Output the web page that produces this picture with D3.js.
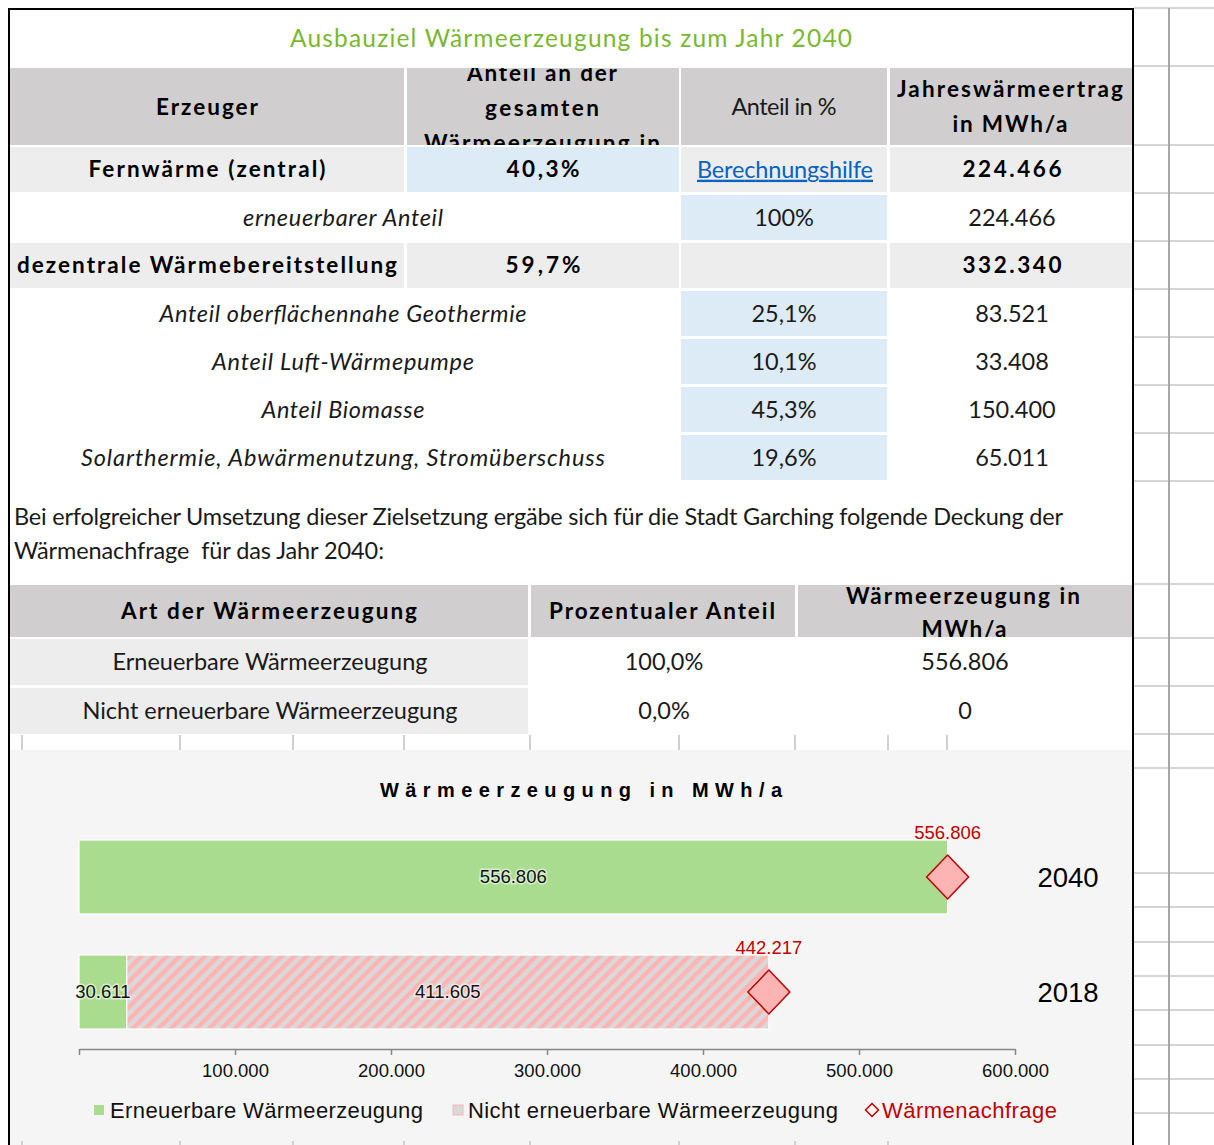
<!DOCTYPE html>
<html>
<head>
<meta charset="utf-8">
<script src="https://cdn.jsdelivr.net/npm/d3@7"></script>
<style>
body { margin: 0; background: #fff; }
svg { display: block; }
.t { font-family: Lato, "Open Sans", sans-serif; font-size: 23.5px; fill: #1a1a1a; white-space: pre; }
.b { font-weight: 700; fill: #000; font-size: 22.5px; }
.i { font-style: italic; }
.c { font-family: "Liberation Sans", Arial, sans-serif; fill: #111; }
</style>
</head>
<body>
<div id="sheet"></div>
<script>
// table 1 values
const erzeuger = ["Fernwärme (zentral)", "erneuerbarer Anteil", "dezentrale Wärmebereitstellung",
  "Anteil oberflächennahe Geothermie", "Anteil Luft-Wärmepumpe", "Anteil Biomasse",
  "Solarthermie, Abwärmenutzung, Stromüberschuss"];
const anteilGesamt = ["40,3%", null, "59,7%", null, null, null, null];
const anteilProzent = ["Berechnungshilfe", "100%", "", "25,1%", "10,1%", "45,3%", "19,6%"];
const jahresertrag = [224466, 224466, 332340, 83521, 33408, 150400, 65011];

// table 2 values
const artLabels = ["Erneuerbare Wärmeerzeugung", "Nicht erneuerbare Wärmeerzeugung"];
const artProzent = ["100,0%", "0,0%"];
const artErzeugung = [556806, 0];

// chart values
const years = ["2040", "2018"];
const renewable = [556806, 30611];
const nonRenewable = [0, 411605];
const demand = [556806, 442217];
const xTicks = [0, 100000, 200000, 300000, 400000, 500000, 600000];

const de = d3.formatLocale({decimal: ",", thousands: ".", grouping: [3], currency: ["", "€"]});
const fmt = de.format(",");

const W = 1214, H = 1145;
const svg = d3.select("#sheet").append("svg").attr("width", W).attr("height", H);
const defs = svg.append("defs");

function put(g, s, x, y, cls, w, anchor) {
  const t = g.append("text").attr("class", "t " + (cls || ""))
    .attr("x", x).attr("y", y).attr("dy", "0.35em")
    .attr("text-anchor", anchor || "middle").text(s);
  if (w) t.attr("textLength", w).attr("lengthAdjust", "spacing");
  return t;
}

// excel grid on the right side
const grid = svg.append("g");
[8, 66, 145, 193, 241, 289, 337, 385, 433, 481, 584, 638, 686, 734, 768, 873, 907, 942, 976, 1010, 1045, 1079, 1113]
  .forEach(yy => grid.append("line").attr("x1", 1134).attr("x2", W).attr("y1", yy).attr("y2", yy)
    .attr("stroke", "#d4d4d4").attr("stroke-width", 2));
grid.append("line").attr("x1", 1169).attr("x2", 1169).attr("y1", 8).attr("y2", H)
  .attr("stroke", "#a6a6a6").attr("stroke-width", 2);

// title
put(svg, "Ausbauziel Wärmeerzeugung bis zum Jahr 2040", 571, 38, "", 562).style("font-size", "24.5px").style("fill", "#7ab831");

// ---- table 1
const t1 = svg.append("g");
const colX = [10, 407, 681, 890], colR = [404, 679, 887, 1132];
const colMid = colX.map((c, i) => (c + colR[i]) / 2);
const GRAY = "#d0cece", LIGHT = "#ededed", BLUE = "#ddebf7";

colX.forEach((c, i) => t1.append("rect").attr("x", c).attr("y", 68).attr("width", colR[i] - c).attr("height", 77).attr("fill", GRAY));
put(t1, "Erzeuger", 207, 107, "b", 102);
defs.append("clipPath").attr("id", "h2").append("rect").attr("x", 407).attr("y", 68).attr("width", 272).attr("height", 77);
const h2 = t1.append("g").attr("clip-path", "url(#h2)");
put(h2, "Anteil an der", 542, 73, "b", 150);
put(h2, "gesamten", 542, 108, "b", 114);
put(h2, "Wärmeerzeugung in", 542, 143, "b", 236);
put(t1, "Anteil in %", 784, 107, "", 105);
put(t1, "Jahreswärmeertrag", 1010, 89, "b", 226);
put(t1, "in MWh/a", 1010, 124, "b", 115);

const labelW = [237, 200, 380, 367, 262, 163, 524];
const valW = [73, null, 75];
erzeuger.forEach((lab, i) => {
  const top = 147 + i * 48, h = 45, cy = top + 22.5;
  const main = anteilGesamt[i] !== null;
  if (main) {
    t1.append("rect").attr("x", colX[0]).attr("y", top).attr("width", colR[0] - colX[0]).attr("height", h).attr("fill", LIGHT);
    t1.append("rect").attr("x", colX[1]).attr("y", top).attr("width", colR[1] - colX[1]).attr("height", h).attr("fill", i === 0 ? BLUE : LIGHT);
  }
  t1.append("rect").attr("x", colX[2]).attr("y", top).attr("width", colR[2] - colX[2]).attr("height", h).attr("fill", main ? LIGHT : BLUE);
  if (main) t1.append("rect").attr("x", colX[3]).attr("y", top).attr("width", colR[3] - colX[3]).attr("height", h).attr("fill", LIGHT);

  if (main && i === 2) put(t1, lab, 17, cy, "b", labelW[i], "start");
  else if (main) put(t1, lab, colMid[0], cy, "b", labelW[i]);
  else put(t1, lab, 343, cy, "i", labelW[i]);
  if (main) put(t1, anteilGesamt[i], colMid[1], cy, "b", valW[i]);
  if (anteilProzent[i] === "Berechnungshilfe")
    put(t1, anteilProzent[i], colMid[2] + 1, cy, "", 176).style("fill", "#0563c1").style("text-decoration", "underline");
  else put(t1, anteilProzent[i], colMid[2], cy, "");
  put(t1, fmt(jahresertrag[i]), colMid[3] + 1, cy, main ? "b" : "", main ? 99 : null);
});

// paragraph
put(svg, "Bei erfolgreicher Umsetzung dieser Zielsetzung ergäbe sich für die Stadt Garching folgende Deckung der", 14, 517, "", 1049, "start");
put(svg, "Wärmenachfrage  für das Jahr 2040:", 14, 551, "", 370, "start");

// ---- table 2
const t2 = svg.append("g");
const c2X = [10, 531, 798], c2R = [528, 795, 1132];
c2X.forEach((c, i) => t2.append("rect").attr("x", c).attr("y", 585).attr("width", c2R[i] - c).attr("height", 52).attr("fill", GRAY));
put(t2, "Art der Wärmeerzeugung", 269, 611, "b", 296);
put(t2, "Prozentualer Anteil", 662, 611, "b", 226);
defs.append("clipPath").attr("id", "h3").append("rect").attr("x", 798).attr("y", 585).attr("width", 334).attr("height", 52);
const h3 = t2.append("g").attr("clip-path", "url(#h3)");
put(h3, "Wärmeerzeugung in", 963, 596, "b", 234);
put(h3, "MWh/a", 964, 629, "b", 85);
artLabels.forEach((lab, i) => {
  const top = 639 + i * 49, cy = top + 23;
  t2.append("rect").attr("x", c2X[0]).attr("y", top).attr("width", c2R[0] - c2X[0]).attr("height", 46).attr("fill", LIGHT);
  put(t2, lab, 270, cy, "", i === 0 ? 315 : 375);
  put(t2, artProzent[i], 664, cy, "");
  put(t2, fmt(artErzeugung[i]), 965, cy, "");
});
[22, 180, 293, 404, 530, 679, 795, 888, 947].forEach(xx =>
  svg.append("line").attr("x1", xx).attr("x2", xx).attr("y1", 735).attr("y2", 750).attr("stroke", "#d0d0d0").attr("stroke-width", 2));

// ---- chart
const ch = svg.append("g");
ch.append("rect").attr("x", 10).attr("y", 750).attr("width", 1122).attr("height", H - 750).attr("fill", "#f5f5f5");
[22, 180, 293, 404, 530, 679, 795, 888].forEach(xx =>
  ch.append("line").attr("x1", xx).attr("x2", xx).attr("y1", 1141).attr("y2", H).attr("stroke", "#d0d0d0").attr("stroke-width", 2));

const pat = defs.append("pattern").attr("id", "hatch").attr("patternUnits", "userSpaceOnUse")
  .attr("width", 9).attr("height", 9).attr("patternTransform", "rotate(45)");
pat.append("rect").attr("width", 9).attr("height", 9).attr("fill", "#d9d9d9");
pat.append("rect").attr("width", 4.5).attr("height", 9).attr("fill", "#ffb3b3");

ch.append("text").attr("class", "c").attr("x", 581).attr("y", 790).attr("dy", "0.35em")
  .attr("text-anchor", "middle").attr("textLength", 402).attr("lengthAdjust", "spacing")
  .style("font-size", "20px").style("font-weight", "700").style("fill", "#000")
  .text("Wärmeerzeugung in MWh/a");

const x = d3.scaleLinear().domain([0, 600000]).range([79, 1015]);
const y = d3.scaleBand().domain(years).range([819.5, 1049.5]).paddingInner(0.357).paddingOuter(0.1785);

const rows = years.map((yr, i) => ({year: yr, ren: renewable[i], non: nonRenewable[i]}));
const stack = d3.stack().keys(["ren", "non"])(rows);
const fills = {ren: "#a9dc8e", non: "url(#hatch)"};

stack.forEach(layer => {
  layer.forEach(seg => {
    const v = seg[1] - seg[0];
    if (v <= 0) return;
    ch.append("rect").attr("x", x(seg[0])).attr("y", y(seg.data.year))
      .attr("width", x(seg[1]) - x(seg[0])).attr("height", y.bandwidth())
      .attr("fill", fills[layer.key]).attr("stroke", "#fff").attr("stroke-width", 1.2);
  });
});
stack.forEach(layer => {
  layer.forEach(seg => {
    const v = seg[1] - seg[0];
    if (v <= 0) return;
    ch.append("text").attr("class", "c")
      .attr("x", (x(seg[0]) + x(seg[1])) / 2).attr("y", y(seg.data.year) + y.bandwidth() / 2).attr("dy", "0.35em")
      .attr("text-anchor", "middle").style("font-size", "18.5px")
      .style("stroke", "#fff").style("stroke-width", 3).style("stroke-opacity", 0.55).style("paint-order", "stroke")
      .text(fmt(v));
  });
});

// axis
const ax = ch.append("g").attr("transform", "translate(0,1049)")
  .call(d3.axisBottom(x).tickValues(xTicks).tickSize(6).tickSizeOuter(0).tickFormat(d => d === 0 ? "" : fmt(d)));
ax.select(".domain").attr("stroke", "#868686").attr("stroke-width", 1.5);
ax.selectAll(".tick line").attr("stroke", "#868686").attr("stroke-width", 1.5);
ax.selectAll(".tick text").attr("y", 22).attr("dy", "0.35em")
  .style("font-family", "'Liberation Sans', Arial, sans-serif").style("font-size", "18.5px").style("fill", "#111");

// demand diamonds
const diamond = (cx, cy, hw, hh) => `M${cx},${cy - hh}L${cx + hw},${cy}L${cx},${cy + hh}L${cx - hw},${cy}Z`;
years.forEach((yr, i) => {
  const cx = x(demand[i]), cy = y(yr) + y.bandwidth() / 2;
  ch.append("path").attr("d", diamond(cx, cy, 21, 22)).attr("fill", "#ffb3b3").attr("stroke", "#c00000").attr("stroke-width", 1.5);
  ch.append("text").attr("class", "c").attr("x", cx).attr("y", cy - 44).attr("dy", "0.35em")
    .attr("text-anchor", "middle").style("font-size", "18.5px").style("fill", "#c00000").text(fmt(demand[i]));
  ch.append("text").attr("class", "c").attr("x", 1068).attr("y", cy).attr("dy", "0.35em")
    .attr("text-anchor", "middle").style("font-size", "27.5px").style("fill", "#000").text(yr);
});

// legend
const lg = ch.append("g");
lg.append("rect").attr("x", 94).attr("y", 1105).attr("width", 10).attr("height", 10).attr("fill", "#a9dc8e");
lg.append("text").attr("class", "c").attr("x", 110).attr("y", 1110).attr("dy", "0.35em")
  .attr("textLength", 313).attr("lengthAdjust", "spacing").style("font-size", "22px").text("Erneuerbare Wärmeerzeugung");
lg.append("rect").attr("x", 453).attr("y", 1105).attr("width", 10).attr("height", 10).attr("fill", "#d9d9d9").attr("stroke", "#ffb3b3").attr("stroke-width", 1);
lg.append("text").attr("class", "c").attr("x", 468).attr("y", 1110).attr("dy", "0.35em")
  .attr("textLength", 370).attr("lengthAdjust", "spacing").style("font-size", "22px").text("Nicht erneuerbare Wärmeerzeugung");
lg.append("path").attr("d", diamond(872, 1110, 6.5, 6.5)).attr("fill", "none").attr("stroke", "#c00000").attr("stroke-width", 1.5);
lg.append("text").attr("class", "c").attr("x", 882).attr("y", 1110).attr("dy", "0.35em")
  .attr("textLength", 175).attr("lengthAdjust", "spacing").style("font-size", "22px").style("fill", "#c00000").text("Wärmenachfrage");

// sheet frame
const fr = svg.append("g").attr("stroke", "#000").attr("stroke-width", 2);
fr.append("line").attr("x1", 8).attr("x2", 1134).attr("y1", 9).attr("y2", 9);
fr.append("line").attr("x1", 9).attr("x2", 9).attr("y1", 8).attr("y2", H);
fr.append("line").attr("x1", 1133).attr("x2", 1133).attr("y1", 8).attr("y2", H);
</script>
</body>
</html>
